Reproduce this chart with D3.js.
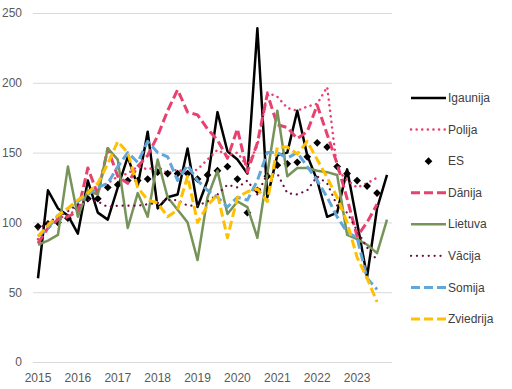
<!DOCTYPE html>
<html>
<head>
<meta charset="utf-8">
<script src="https://cdn.jsdelivr.net/npm/d3@7"></script>
<style>
  body { margin: 0; background: #fff; }
  svg text { font-family: "Liberation Sans", Arial, sans-serif; }
</style>
</head>
<body>
<svg id="chart"></svg>
<script>
// kvartāli 2015Q1 .. 2023Q4
let years = ['2015', '2016', '2017', '2018', '2019', '2020', '2021', '2022', '2023'];
let quarters = [];
years.forEach((y) => { for (let q = 1; q <= 4; q++) quarters.push(y + 'Q' + q); });

let yTicks = [0, 50, 100, 150, 200, 250];

let igaunija = [60, 123, 110, 105, 92, 130, 107, 102, 125, 147, 126, 165, 110, 118, 120, 153, 111, 130, 179, 151, 145, 135, 239, 118, 148, 150, 180, 148, 130, 104, 107, 138, 100, 61, 110, 134];
let polija = [88, 98, 103, 105, 110, 120, 125, 128, 133, 135, 140, 138, 140, 135, 138, 135, 138, 145, 152, 148, 150, 140, 155, 193, 190, 182, 180, 183, 185, 197, 138, 130, 125, 128, 132, null];
let es = [97, 99, 100, 103, 110, 117, 117, 125, 127, 130, 130, 131, 136, 135, 135, 135, 131, 134, 137, 140, 131, 107, 123, 133, 141, 142, 143, 147, 157, 154, 140, 135, 130, 126, 121, null];
let danija = [85, 96, 102, 104, 108, 139, 120, 153, 133, 128, 140, 148, 162, 180, 195, 179, 177, 167, 159, 146, 167, 136, 157, 192, 170, 168, 160, 165, 184, 163, 142, 117, 90, 100, 113, null];
let lietuva = [84, 87, 91, 140, 104, 123, 120, 153, 145, 96, 121, 104, 145, 118, 109, 100, 73, 118, 137, 106, 115, 111, 89, 135, 180, 133, 139, 139, 137, 136, 134, 91, 88, 84, 78, 102];
let vacija = [95, 100, 104, 108, 113, 116, 115, 111, 112, 112, 112, 113, 114, 116, 116, 112, 112, 115, 120, 127, 125, 130, 120, 135, 135, 121, 120, 123, 133, 128, 112, 107, 94, 82, 73, null];
let somija = [90, 96, 105, 110, 115, 120, 125, 128, 140, 150, 143, 158, 150, 147, 130, 141, 130, 123, 118, 111, 118, 116, 130, 150, 150, 146, 150, 140, 130, 118, 104, 93, 89, 60, 52, null];
let zviedrija = [90, 98, 105, 110, 116, 121, 128, 142, 158, 150, 125, 116, 114, 104, 109, 133, 100, 112, 120, 89, 118, 122, 124, 115, 154, 154, 149, 158, 145, 132, 118, 100, 75, 60, 43, null];

// sērijas zīmēšanas secībā
let series = [
  { name: 'Igaunija', values: igaunija, color: '#000000', width: 2.5, dash: null },
  { name: 'Polija', values: polija, color: '#E8416F', width: 2.5, dash: '0.1,5.5' },
  { name: 'ES', values: es, color: '#000000', marker: true },
  { name: 'Dānija', values: danija, color: '#E8416F', width: 3, dash: '9,4' },
  { name: 'Lietuva', values: lietuva, color: '#76935A', width: 2.5, dash: null },
  { name: 'Vācija', values: vacija, color: '#6D0E3C', width: 2.2, dash: '0.1,5.8' },
  { name: 'Somija', values: somija, color: '#62A6DA', width: 3, dash: '9,4' },
  { name: 'Zviedrija', values: zviedrija, color: '#FFC000', width: 3, dash: '9,4' }
];

let width = 512, height = 389;
let plotLeft = 33, plotRight = 392, plotTop = 13, plotBottom = 362;

let svg = d3.select('#chart').attr('width', width).attr('height', height);

let x = d3.scaleBand().domain(quarters).range([plotLeft, plotRight]);
let cxq = (q) => x(q) + x.bandwidth() / 2;
let y = d3.scaleLinear().domain([0, 250]).range([plotBottom, plotTop]);

// režģis
svg.append('g')
  .attr('transform', `translate(${plotLeft},0)`)
  .call(d3.axisLeft(y).tickValues(yTicks).tickSize(-(plotRight - plotLeft)).tickFormat(''))
  .call((g) => g.select('.domain').remove())
  .call((g) => g.selectAll('line').attr('stroke', '#d9d9d9').attr('stroke-width', 1));

// y ass
svg.append('g')
  .attr('transform', 'translate(22,0)')
  .call(d3.axisLeft(y).tickValues(yTicks).tickSize(0).tickPadding(0))
  .call((g) => g.select('.domain').remove())
  .call((g) => g.selectAll('text').attr('fill', '#595959').style('font-size', '12px'));

// x ass
svg.append('g')
  .attr('transform', `translate(0,${plotBottom})`)
  .call(d3.axisBottom(x).tickValues(quarters.filter((q) => q.endsWith('Q1')))
    .tickFormat((q) => q.slice(0, 4)).tickSize(0).tickPadding(11))
  .call((g) => g.select('.domain').remove())
  .call((g) => g.selectAll('text').attr('fill', '#595959').style('font-size', '12px'));

let line = d3.line()
  .defined((d) => d[1] != null)
  .x((d) => cxq(d[0]))
  .y((d) => y(d[1]));

let diamond = d3.symbol(d3.symbolSquare, 30);
let isDotted = (s) => s.dash && s.dash.startsWith('0.1');

series.forEach((s) => {
  let pts = quarters.map((q, i) => [q, s.values[i]]);
  if (s.marker) {
    svg.append('g').selectAll('path')
      .data(pts.filter((d) => d[1] != null))
      .enter().append('path')
      .attr('d', diamond)
      .attr('fill', s.color)
      .attr('transform', (d) => `translate(${cxq(d[0])},${y(d[1])}) rotate(45)`);
  } else {
    svg.append('path')
      .datum(pts)
      .attr('d', line)
      .attr('fill', 'none')
      .attr('stroke', s.color)
      .attr('stroke-width', s.width)
      .attr('stroke-linejoin', 'round')
      .attr('stroke-linecap', isDotted(s) ? 'round' : 'butt')
      .attr('stroke-dasharray', s.dash);
  }
});

// leģenda
let legendOrder = series.map((s) => s.name);
let ly = d3.scalePoint().domain(legendOrder).range([98, 319]);
let legend = svg.append('g');
series.forEach((s) => {
  let yy = ly(s.name);
  if (s.marker) {
    legend.append('path').attr('d', diamond).attr('fill', s.color)
      .attr('transform', `translate(428.5,${yy}) rotate(45)`);
  } else {
    legend.append('line')
      .attr('x1', 411).attr('x2', 446).attr('y1', yy).attr('y2', yy)
      .attr('stroke', s.color).attr('stroke-width', s.width)
      .attr('stroke-linecap', isDotted(s) ? 'round' : 'butt')
      .attr('stroke-dasharray', s.dash);
  }
  legend.append('text')
    .attr('x', 448).attr('y', yy).attr('dy', '0.35em')
    .attr('fill', '#404040').style('font-size', '12px')
    .text(s.name);
});
</script>
</body>
</html>
